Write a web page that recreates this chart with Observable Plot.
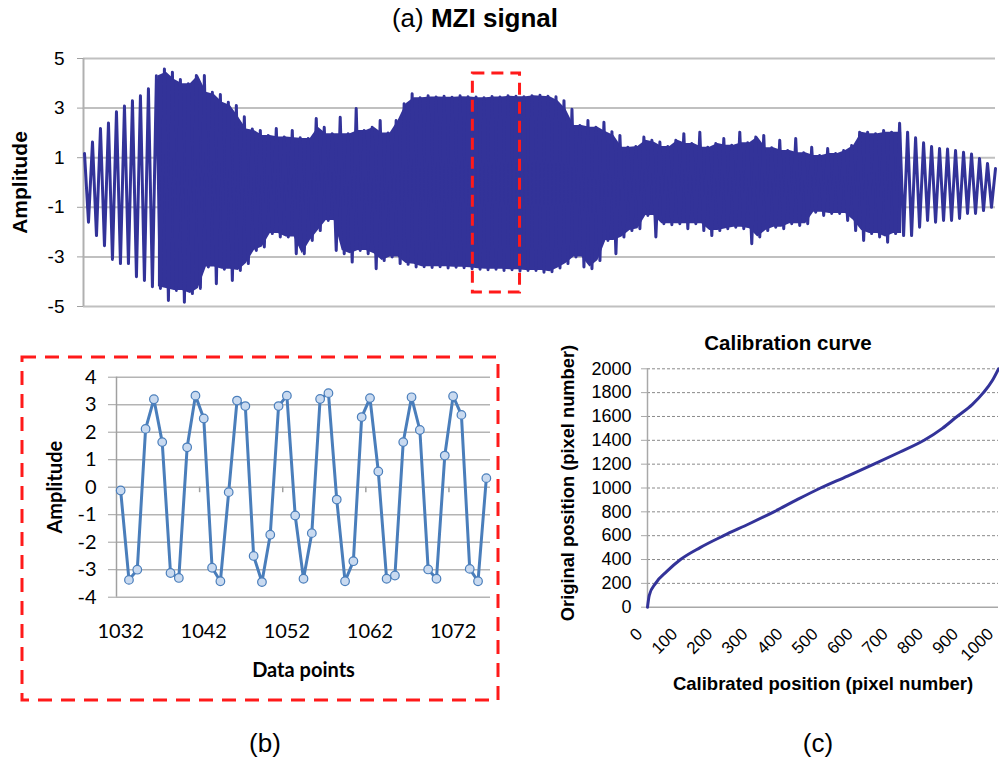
<!DOCTYPE html>
<html><head><meta charset="utf-8">
<script src="https://cdn.jsdelivr.net/npm/d3@7"></script>
<script src="https://cdn.jsdelivr.net/npm/@observablehq/plot@0.6"></script>
<style>
html,body{margin:0;padding:0;background:#fff;}
#fig{position:relative;width:999px;height:764px;overflow:hidden;font-family:"Liberation Sans",Arial,sans-serif;color:#000;}
.abs{position:absolute;}
</style></head><body>
<div id="fig">
  <svg class="abs" style="left:0;top:0" width="999" height="764">
    <rect x="22" y="357" width="476" height="343" fill="none" stroke="#ff1a1a" stroke-width="3" stroke-dasharray="14,9"/>
  </svg>
  <div class="abs" style="left:0;top:3px;width:950px;text-align:center;font-size:26px;">(a) <b>MZI signal</b></div>
  <div class="abs" id="pa" style="left:0;top:0"></div>
  <div class="abs" id="pb" style="left:0;top:320px"></div>
  <div class="abs" id="pc" style="left:540px;top:320px"></div>
  <div class="abs" style="left:215px;top:728px;width:100px;text-align:center;font-size:26px;">(b)</div>
  <div class="abs" style="left:768px;top:728px;width:100px;text-align:center;font-size:26px;">(c)</div>
</div>
<script>
// ---------- Panel (a): MZI signal, alternating upper / lower extremes ----------
const sigTop = [1.17,1.63,2.18,2.4,2.85,3.08,3.3,3.5,3.78,4.3,4.58,4.45,4.15,3.98,4.31,4.31,3.64,3.55,3.24,3.1,
  2.65,2.16,2.1,1.9,2.18,1.83,2.1,1.8,1.77,2.58,2.23,1.97,2.63,1.97,2.98,2.1,2.23,2.5,2.0,2.5,
  3.18,3.58,3.42,3.5,3.45,3.48,3.44,3.5,3.46,3.45,3.42,3.47,3.45,3.5,3.48,3.46,3.5,3.52,3.48,3.46,
  3.3,2.95,2.3,2.5,2.23,2.43,2.05,1.9,1.42,1.45,1.83,1.7,1.63,1.45,1.7,1.97,1.57,2.03,1.42,1.57,
  1.77,1.5,2.03,1.6,1.83,1.9,1.4,1.7,1.29,1.77,1.2,1.42,1.09,1.37,1.17,1.29,1.49,2.03,2.03,1.97,
  2.1,2.03,2.39,2.03,1.8,1.6,1.45,1.37,1.35,1.29,1.22,1.15,0.97,0.77,0.56];
const sigBottom = [-1.6,-2.14,-2.55,-3.1,-3.27,-3.27,-3.8,-3.95,-4.2,-4.27,-4.76,-4.35,-4.83,-4.48,-4.27,-3.41,-4.08,-3.5,-3.95,-3.55,
  -3.27,-2.74,-2.6,-2.06,-2.2,-2.2,-2.87,-2.87,-2.34,-1.94,-1.53,-2.74,-2.87,-3.21,-2.74,-2.87,-3.48,-3.15,-3.0,-3.27,
  -3.3,-3.41,-3.4,-3.43,-3.4,-3.45,-3.42,-3.44,-3.48,-3.5,-3.52,-3.5,-3.55,-3.52,-3.57,-3.55,-3.55,-3.62,-3.6,-3.45,
  -3.27,-3.0,-3.41,-3.48,-3.15,-2.34,-2.87,-2.2,-1.94,-1.86,-1.33,-2.2,-1.66,-1.7,-1.66,-1.86,-1.66,-1.94,-2.14,-1.94,
  -1.86,-1.8,-1.86,-2.47,-2.2,-1.94,-1.8,-1.86,-1.66,-1.73,-1.66,-1.2,-1.33,-1.25,-1.25,-1.53,-1.94,-2.34,-2.06,-2.2,
  -2.41,-2.06,-2.14,-2.14,-1.8,-1.53,-1.6,-1.53,-1.53,-1.45,-1.25,-1.25,-1.13,-1.0];
const ampTicks = [-5,-3,-1,1,3,5];
const zoomWindow = [48.6, 54.5];      // extreme index range of the zoomed window
const zoomAmp = [-4.44, 4.4];

// ---------- Panel (b): zoomed data points ----------
const bIndex = d3.range(1032, 1077);
const bValues = [-0.12,-3.37,-3.0,2.12,3.2,1.64,-3.12,-3.3,1.45,3.33,2.5,-2.93,-3.42,-0.18,3.15,2.95,-2.5,-3.45,-1.73,2.95,
  3.33,-1.03,-3.33,-1.67,3.21,3.42,-0.45,-3.42,-2.69,2.55,3.24,0.57,-3.33,-3.21,1.64,3.27,2.08,-2.99,-3.33,1.15,
  3.31,2.63,-2.97,-3.42,0.33];
const bXLabels = [1032,1042,1052,1062,1072];
const bXTicks = [1041.5,1051.5,1061.5,1071.5];
const bYTicks = [-4,-3,-2,-1,0,1,2,3,4];

// ---------- Panel (c): calibration curve ----------
const calibX = [0,5,23,55,94,150,217,290,360,425,493,570,645,718,788,840,882,925,957,982,1000];
const calibY = [0,100,200,300,400,500,600,700,800,900,1000,1100,1200,1300,1400,1500,1600,1700,1800,1900,2000];
const cYTicks = [0,200,400,600,800,1000,1200,1400,1600,1800,2000];
const cXTicks = [0,100,200,300,400,500,600,700,800,900,1000];

const navy = "#333399";
const arial = "'Liberation Sans', Arial, sans-serif";

// zigzag through the extremes
const sigPts = [];
sigTop.forEach((v, i) => {
  sigPts.push({x: i, y: v});
  if (i < sigBottom.length) sigPts.push({x: i + 0.5, y: sigBottom[i]});
});
// solid core where the oscillation is too dense to resolve: inner envelope of neighbouring extremes
const fillRows = d3.range(9, 103).map(i => ({
  x: i + 0.25,
  lo: Math.max(sigBottom[i - 1], sigBottom[i]),
  hi: Math.min(sigTop[i], sigTop[i + 1])
}));

const plotA = Plot.plot({
  width: 999, height: 320, marginLeft: 83, marginRight: 4, marginTop: 58, marginBottom: 14,
  x: {domain: [-0.125, 114], axis: null},
  y: {domain: [-5, 5], axis: null},
  style: {fontFamily: arial, fontSize: "19px", color: "#000", background: "transparent", overflow: "visible"},
  marks: [
    Plot.ruleY(ampTicks, {stroke: "#c0c0c0", strokeWidth: 2}),
    Plot.ruleX([-0.125], {y1: -5, y2: 5, stroke: "#b0b0b0", strokeWidth: 2}),
    Plot.axisY(ampTicks, {label: null, tickSize: 6, tickPadding: 13, tickFormat: d => String(d), stroke: "#a0a0a0", fontSize: 19}),
    Plot.areaY(fillRows, {x: "x", y1: "lo", y2: "hi", fill: navy}),
    Plot.line(sigPts, {x: "x", y: "y", stroke: navy, strokeWidth: 3, strokeLinejoin: "round"}),
    Plot.rect([0], {x1: () => zoomWindow[0], x2: () => zoomWindow[1], y1: () => zoomAmp[0], y2: () => zoomAmp[1],
      fill: "none", stroke: "#ff1a1a", strokeWidth: 3, strokeDasharray: "12,7"}),
    Plot.text(["Amplitude"], {frameAnchor: "left", textAnchor: "middle", dx: -63, rotate: -90, fontWeight: "bold", fontSize: 21})
  ]
});
document.getElementById("pa").appendChild(plotA);

const plotB = Plot.plot({
  width: 500, height: 390, marginLeft: 116, marginRight: 10, marginTop: 56.7, marginBottom: 113.3,
  x: {domain: [1031.5, 1076.5], axis: null},
  y: {domain: [-4, 4], axis: null},
  style: {fontFamily: "Lato, 'Open Sans', sans-serif", fontSize: "20px", color: "#000", background: "transparent", overflow: "visible"},
  marks: [
    Plot.ruleY(bYTicks, {stroke: "#b4b4b4", strokeWidth: 1.5}),
    Plot.ruleX([1031.5], {y1: -4, y2: 4, stroke: "#a0a0a0", strokeWidth: 1.5}),
    Plot.ruleX(bXTicks, {y1: 0, y2: -0.2, stroke: "#a0a0a0", strokeWidth: 1.5}),
    Plot.axisY(bYTicks, {label: null, tickSize: 8, tickPadding: 12, stroke: "#a0a0a0", tickFormat: d => String(d), fontSize: 20}),
    Plot.axisX(bXLabels, {label: null, tickSize: 0, tickPadding: 27, fontSize: 20, tickFormat: d => String(d)}),
    Plot.line(bValues, {x: (d, i) => bIndex[i], y: d => d, stroke: "#4a7ebb", strokeWidth: 3}),
    Plot.dot(bValues, {x: (d, i) => bIndex[i], y: d => d, r: 4.3, fill: "#c9daf0", stroke: "#4a7ebb", strokeWidth: 1.2}),
    Plot.text(["Amplitude"], {frameAnchor: "left", textAnchor: "middle", dx: -61, rotate: -90, fontWeight: "bold", fontSize: 20}),
    Plot.text(["Data points"], {frameAnchor: "bottom", dy: 80, fontWeight: "bold", fontSize: 20})
  ]
});
document.getElementById("pb").appendChild(plotB);

const calib = calibX.map((u, i) => ({u, v: calibY[i]}));
const plotC = Plot.plot({
  width: 459, height: 390, marginLeft: 107, marginRight: 1, marginTop: 48.3, marginBottom: 103.3,
  x: {domain: [0, 1000], axis: null},
  y: {domain: [0, 2000], axis: null},
  style: {fontFamily: arial, fontSize: "17px", color: "#000", background: "transparent", overflow: "visible"},
  marks: [
    Plot.ruleY(cYTicks.filter(v => v > 0), {stroke: "#8a8a8a", strokeWidth: 1, strokeDasharray: "3,2"}),
    Plot.ruleY([0], {stroke: "#a8a8a8", strokeWidth: 1.5}),
    Plot.ruleX([0], {y1: 0, y2: 2000, stroke: "#a8a8a8", strokeWidth: 1.5}),
    Plot.axisY(cYTicks, {label: null, tickSize: 6, tickPadding: 10, stroke: "#a8a8a8", fontSize: 18, tickFormat: d => String(d)}),
    Plot.axisX(cXTicks, {label: null, tickSize: 0, tickPadding: 24, dx: -8, tickRotate: -45, fontSize: 17, tickFormat: d => String(d)}),
    Plot.line(calib, {x: "u", y: "v", curve: "monotone-x", stroke: navy, strokeWidth: 3}),
    Plot.text(["Calibration curve"], {frameAnchor: "top", dy: -33, dx: -35, fontWeight: "bold", fontSize: 20.5}),
    Plot.text(["Original position (pixel number)"], {frameAnchor: "left", textAnchor: "middle", dx: -79, dy: -5, rotate: -90, fontWeight: "bold", fontSize: 18.3}),
    Plot.text(["Calibrated position (pixel number)"], {frameAnchor: "bottom", dy: 83, fontWeight: "bold", fontSize: 18.5})
  ]
});
document.getElementById("pc").appendChild(plotC);
</script>
</body></html>
